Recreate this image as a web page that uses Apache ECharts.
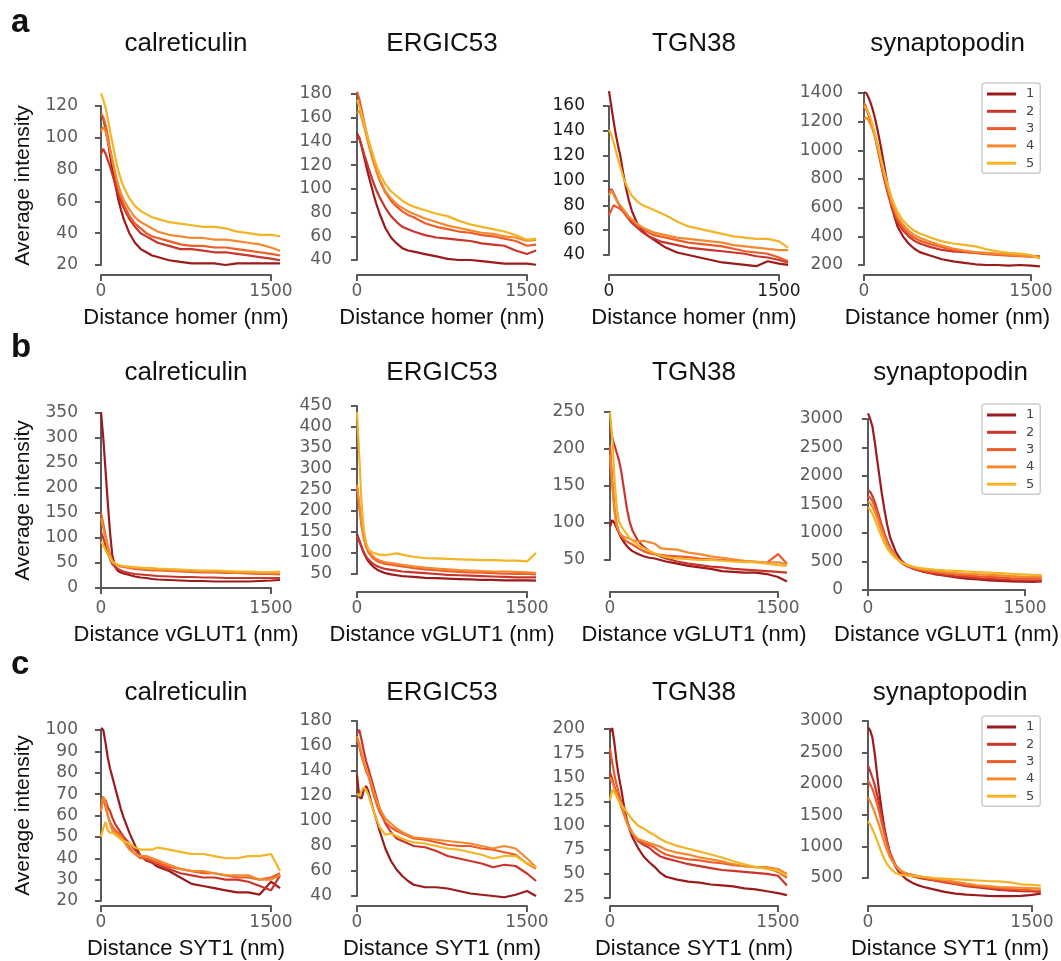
<!DOCTYPE html>
<html>
<head>
<meta charset="utf-8">
<script src="https://cdn.jsdelivr.net/npm/echarts@6/dist/echarts.min.js"></script>
<style>
  html, body { margin: 0; padding: 0; background: #fff; }
  #chart { width: 1061px; height: 961px; }
</style>
</head>
<body>
<div id="chart"></div>
<script>
// distance from the reference marker (nm), shared by every profile
var distanceNm = [0, 20, 40, 60, 80, 100, 125, 150, 175, 200, 250, 300, 350, 400, 450, 500, 600, 700, 800, 900, 1000, 1100, 1200, 1300, 1400, 1500, 1580];
var lineNames = ['1', '2', '3', '4', '5'];
var lineColors = ['#9b1a1c', '#c9352a', '#ee5a2a', '#f5892e', '#f3b425'];
var markers = ['calreticulin', 'ERGIC53', 'TGN38', 'synaptopodin'];
var references = ['homer', 'vGLUT1', 'SYT1'];
var letters = ['a', 'b', 'c'];

// average intensity profiles, one array per line 1..5
// a: distance to homer
var homer_calreticulin = [
  [115, 112, 106, 98, 89, 81, 71, 62, 55, 49, 40, 34, 30, 28, 26, 25, 23, 22, 21, 21, 21, 20, 21, 21, 21, 21, 21],
  [90, 93, 90, 86, 82, 77, 71, 65, 60, 56, 49, 44, 40, 38, 36, 34, 32, 30, 30, 29, 28, 28, 27, 26, 25, 24, 23],
  [115, 113, 108, 101, 93, 86, 77, 69, 63, 58, 51, 46, 43, 40, 38, 37, 35, 33, 32, 32, 31, 31, 30, 29, 28, 27, 26],
  [104, 107, 104, 98, 92, 86, 78, 71, 65, 61, 55, 50, 47, 45, 43, 41, 39, 38, 37, 37, 36, 36, 35, 34, 33, 31, 29],
  [128, 124, 119, 112, 104, 97, 88, 80, 74, 69, 62, 57, 54, 52, 50, 49, 47, 46, 45, 44, 44, 43, 41, 40, 39, 39, 38]
];
var homer_ergic53 = [
  [147, 143, 136, 128, 120, 112, 103, 94, 86, 79, 67, 59, 54, 50, 48, 47, 45, 43, 41, 40, 40, 39, 38, 37, 37, 37, 36],
  [145, 143, 137, 130, 124, 118, 111, 104, 98, 93, 84, 77, 72, 68, 66, 64, 61, 59, 58, 57, 56, 54, 53, 52, 48, 45, 48],
  [182, 176, 167, 158, 149, 141, 131, 122, 114, 107, 97, 90, 85, 81, 78, 76, 71, 68, 66, 64, 63, 61, 60, 58, 56, 52, 53],
  [164, 166, 160, 153, 146, 138, 129, 121, 114, 108, 98, 92, 87, 84, 81, 79, 75, 72, 69, 67, 65, 63, 62, 60, 59, 56, 57],
  [175, 170, 163, 156, 149, 142, 134, 126, 119, 113, 104, 98, 94, 90, 87, 85, 82, 79, 77, 73, 70, 68, 66, 64, 61, 57, 58]
];
var homer_tgn38 = [
  [172, 160, 148, 137, 128, 120, 106, 94, 84, 76, 65, 59, 55, 52, 49, 46, 42, 40, 38, 36, 34, 33, 32, 31, 35, 33, 32],
  [91, 93, 90, 86, 82, 79, 75, 72, 69, 66, 62, 58, 55, 53, 51, 50, 48, 46, 45, 44, 43, 42, 41, 39, 38, 36, 34],
  [72, 76, 80, 79, 78, 77, 75, 72, 70, 68, 64, 61, 58, 56, 55, 54, 52, 50, 49, 48, 47, 45, 43, 42, 41, 38, 35],
  [88, 92, 89, 85, 82, 80, 77, 74, 71, 69, 65, 62, 60, 58, 57, 56, 54, 53, 52, 51, 50, 48, 47, 46, 45, 44, 44],
  [141, 137, 131, 124, 117, 111, 103, 97, 92, 88, 83, 80, 78, 76, 74, 72, 67, 63, 61, 59, 57, 55, 54, 53, 53, 51, 46]
];
var homer_synaptopodin = [
  [1405, 1400, 1370, 1330, 1280, 1220, 1130, 1030, 920, 810, 600, 470, 400, 350, 315, 290, 265, 240, 225, 215, 205, 200, 200, 195, 200, 195, 190],
  [1300, 1290, 1250, 1200, 1150, 1090, 1000, 910, 820, 740, 600, 500, 440, 400, 370, 350, 325, 305, 295, 290, 285, 280, 275, 270, 265, 260, 255],
  [1330, 1300, 1260, 1210, 1160, 1100, 1020, 930, 840, 760, 620, 520, 460, 420, 390, 370, 345, 325, 305, 295, 285, 275, 270, 265, 262, 258, 262],
  [1220, 1230, 1210, 1180, 1140, 1090, 1015, 935, 850, 775, 640, 540, 480, 440, 410, 390, 360, 335, 315, 300, 290, 285, 280, 272, 265, 260, 250],
  [1310, 1290, 1260, 1220, 1170, 1110, 1030, 950, 870, 795, 665, 570, 510, 470, 440, 420, 390, 365, 350, 340, 330, 310, 295, 285, 280, 270, 245]
];
// b: distance to vGLUT1
var vglut1_calreticulin = [
  [352, 300, 235, 170, 110, 65, 42, 34, 31, 29, 26, 23, 21, 20, 18, 17, 16, 15, 14, 14, 13, 13, 13, 13, 14, 15, 16],
  [113, 100, 85, 70, 58, 48, 42, 38, 35, 33, 30, 28, 27, 26, 25, 24, 23, 22, 22, 21, 21, 20, 20, 20, 20, 20, 20],
  [150, 128, 105, 84, 66, 54, 48, 45, 43, 42, 40, 38, 37, 36, 35, 35, 34, 33, 32, 31, 31, 30, 30, 29, 28, 28, 27],
  [140, 120, 100, 81, 65, 54, 49, 46, 44, 43, 41, 40, 39, 38, 37, 37, 36, 35, 34, 33, 33, 32, 31, 31, 30, 30, 29],
  [93, 85, 76, 67, 59, 52, 48, 46, 45, 44, 43, 42, 41, 40, 40, 39, 38, 37, 36, 35, 35, 34, 33, 33, 32, 32, 33]
];
var vglut1_ergic53 = [
  [145, 130, 114, 100, 89, 80, 72, 66, 61, 57, 52, 49, 47, 45, 44, 43, 41, 40, 39, 38, 37, 36, 36, 35, 35, 35, 34],
  [140, 128, 115, 102, 92, 85, 78, 73, 69, 66, 62, 60, 58, 56, 55, 54, 52, 50, 48, 47, 46, 45, 44, 43, 42, 42, 42],
  [258, 210, 165, 135, 115, 102, 93, 86, 81, 78, 74, 72, 70, 68, 66, 64, 61, 59, 57, 55, 54, 53, 52, 51, 50, 50, 49],
  [262, 215, 170, 140, 120, 106, 97, 90, 85, 82, 78, 76, 74, 72, 70, 68, 65, 63, 61, 59, 58, 57, 56, 56, 55, 54, 52],
  [436, 330, 220, 155, 125, 110, 103, 100, 98, 96, 95, 97, 99, 96, 93, 91, 88, 87, 86, 85, 84, 83, 83, 82, 82, 80, 100]
];
var vglut1_tgn38 = [
  [95, 104, 100, 93, 86, 80, 74, 69, 65, 62, 58, 55, 53, 52, 50, 48, 45, 42, 40, 38, 35, 34, 33, 33, 31, 27, 21],
  [228, 215, 205, 195, 185, 170, 145, 120, 102, 90, 76, 68, 62, 58, 55, 52, 48, 45, 43, 41, 40, 38, 37, 36, 35, 34, 33],
  [205, 160, 120, 98, 88, 82, 78, 75, 73, 71, 66, 62, 59, 58, 57, 56, 55, 54, 52, 51, 50, 49, 48, 47, 46, 58, 45],
  [192, 150, 115, 96, 88, 84, 81, 80, 79, 77, 75, 76, 74, 72, 66, 65, 64, 60, 58, 55, 53, 51, 49, 48, 46, 47, 44],
  [250, 215, 160, 120, 102, 96, 90, 85, 80, 76, 70, 66, 62, 59, 56, 54, 52, 51, 50, 50, 49, 48, 47, 47, 45, 43, 42]
];
var vglut1_synaptopodin = [
  [3100, 3000, 2870, 2620, 2330, 2050, 1700, 1400, 1140, 930, 680, 520, 440, 390, 350, 320, 280, 250, 220, 200, 185, 170, 160, 150, 145, 140, 150],
  [1750, 1720, 1650, 1550, 1430, 1300, 1140, 990, 860, 750, 590, 480, 420, 380, 350, 325, 290, 260, 240, 225, 210, 195, 185, 175, 170, 165, 160],
  [1650, 1620, 1560, 1470, 1370, 1250, 1100, 960, 840, 740, 590, 490, 430, 395, 365, 345, 315, 290, 270, 255, 240, 230, 220, 210, 205, 200, 195],
  [1550, 1520, 1460, 1380, 1280, 1170, 1030, 910, 800, 710, 580, 490, 440, 405, 380, 360, 335, 310, 295, 285, 275, 265, 255, 245, 235, 230, 225],
  [1450, 1410, 1340, 1250, 1150, 1050, 930, 820, 730, 660, 560, 490, 445, 415, 395, 380, 360, 345, 335, 325, 315, 305, 295, 285, 275, 265, 260]
];
// c: distance to SYT1
var syt1_calreticulin = [
  [101, 100, 94, 87, 82, 78, 73, 68, 63, 59, 52, 46, 41, 39, 38, 36, 34, 31, 28, 27, 26, 25, 24, 24, 23, 29, 26],
  [63, 68, 67, 64, 62, 59, 56, 54, 52, 50, 47, 44, 41, 39, 38, 37, 35, 33, 32, 31, 31, 30, 30, 29, 27, 25, 32],
  [67, 68, 64, 60, 57, 55, 53, 52, 51, 49, 45, 42, 40, 40, 39, 38, 36, 35, 34, 33, 33, 32, 31, 31, 30, 31, 33],
  [62, 69, 66, 60, 56, 53, 52, 51, 50, 48, 44, 42, 41, 41, 40, 39, 37, 35, 34, 34, 33, 32, 32, 32, 30, 30, 32],
  [50, 54, 57, 53, 52, 52, 51, 50, 49, 48, 47, 45, 44, 44, 44, 45, 44, 43, 42, 42, 41, 40, 40, 41, 41, 42, 34]
];
var syt1_ergic53 = [
  [137, 119, 118, 125, 128, 124, 115, 107, 100, 92, 78, 68, 61, 56, 52, 49, 47, 47, 46, 44, 42, 41, 40, 39, 41, 44, 40],
  [170, 173, 165, 156, 148, 142, 134, 126, 118, 110, 98, 91, 86, 84, 82, 80, 79, 76, 72, 70, 68, 66, 63, 65, 64, 58, 52],
  [166, 160, 152, 146, 140, 136, 128, 120, 113, 107, 99, 95, 92, 90, 88, 86, 85, 83, 81, 80, 80, 78, 77, 75, 73, 66, 62],
  [168, 162, 155, 148, 142, 137, 130, 123, 116, 110, 102, 98, 94, 91, 89, 87, 86, 85, 84, 83, 82, 80, 78, 80, 78, 70, 63],
  [122, 120, 124, 127, 125, 121, 114, 107, 101, 95, 89, 90, 88, 86, 84, 83, 82, 80, 78, 77, 75, 73, 70, 72, 72, 66, 63]
];
var syt1_tgn38 = [
  [197, 201, 185, 165, 150, 138, 120, 106, 96, 88, 77, 68, 62, 57, 51, 47, 44, 42, 41, 39, 38, 37, 35, 34, 32, 30, 28],
  [155, 148, 140, 133, 127, 120, 112, 104, 97, 92, 84, 80, 77, 72, 68, 66, 63, 60, 58, 56, 54, 53, 52, 51, 50, 48, 38],
  [180, 165, 152, 142, 133, 124, 114, 105, 98, 92, 85, 82, 80, 77, 73, 70, 67, 65, 64, 62, 61, 59, 58, 57, 56, 52, 46],
  [150, 145, 138, 132, 126, 120, 111, 103, 97, 92, 86, 84, 82, 80, 78, 75, 72, 70, 67, 65, 63, 60, 58, 57, 57, 55, 50],
  [126, 137, 134, 130, 125, 122, 118, 114, 110, 106, 100, 97, 93, 90, 86, 83, 79, 76, 73, 70, 67, 63, 60, 57, 55, 53, 48]
];
var syt1_synaptopodin = [
  [2900, 2850, 2740, 2500, 2200, 1900, 1580, 1300, 1080, 900, 680, 560, 480, 430, 390, 360, 320, 280, 250, 235, 225, 215, 210, 210, 215, 230, 250],
  [2290, 2200, 2100, 1990, 1850, 1700, 1480, 1260, 1070, 910, 700, 600, 560, 530, 510, 490, 460, 430, 400, 370, 350, 330, 310, 300, 290, 285, 280],
  [2050, 1990, 1920, 1820, 1700, 1570, 1380, 1200, 1040, 900, 710, 610, 570, 545, 525, 505, 470, 440, 410, 385, 370, 355, 340, 325, 315, 305, 300],
  [1780, 1720, 1640, 1550, 1450, 1350, 1200, 1060, 940, 830, 690, 610, 575, 555, 535, 520, 495, 470, 440, 410, 385, 370, 355, 350, 345, 340, 330],
  [1400, 1350, 1280, 1200, 1110, 1020, 900, 800, 720, 660, 580, 550, 540, 535, 525, 520, 500, 490, 480, 470, 460, 450, 445, 430, 400, 390, 380]
];

var panelData = [
  homer_calreticulin, homer_ergic53, homer_tgn38, homer_synaptopodin,
  vglut1_calreticulin, vglut1_ergic53, vglut1_tgn38, vglut1_synaptopodin,
  syt1_calreticulin, syt1_ergic53, syt1_tgn38, syt1_synaptopodin
];
// y ticks per panel: [min, max, step]
var yTicks = [
  [20, 120, 20], [40, 180, 20], [40, 160, 20], [200, 1400, 200],
  [0, 350, 50], [50, 450, 50], [50, 250, 50], [0, 3000, 500],
  [20, 100, 10], [40, 180, 20], [25, 200, 25], [500, 3000, 500]
];

// layout (px): box from x=0..1500 and over the y tick range, [left, top, width, height]
var boxes = [
  [101, 106, 170, 159], [357, 94, 170, 166], [609, 106, 170, 149], [864, 93, 167, 172],
  [101, 413, 170, 175], [357, 406, 170, 168], [610, 412, 168, 148], [868, 419, 165, 171],
  [101, 730, 170, 171], [357, 721, 170, 175], [610, 729, 168, 169], [868, 721, 164, 157]
];
var xSpineY = [275, 592, 906];
var ySpineX = [86, 340, 593, 851];
var titleY = [43, 372, 692];
var letterY = [23, 348, 665];
var legendTop = [83, 404, 716];
var xTickMax = 1500;   // the trimmed x spine stops at the last tick
var xDataMax = 1600;   // the profiles run a little past it

var spineColor = '#5a5a5a';
var tickFont = 'DejaVu Sans';
var textFont = '"Liberation Sans", Arial, sans-serif';
var plain = function (v) { return String(v); };

var chart = echarts.init(document.getElementById('chart'));
var option = {
  animation: false,
  grid: [], xAxis: [], yAxis: [], series: [], legend: [], graphic: []
};

panelData.forEach(function (lines, i) {
  var row = Math.floor(i / 4), col = i % 4;
  var b = boxes[i];
  var labelColor = (i === 2) ? '#1a1a1a' : '#5c5c5c'; // TGN38/homer labels are darker
  var dataGrid = 2 * i, axisGrid = 2 * i + 1;

  // grid holding the profiles: same px per nm, but wide enough for the tail past 1500
  option.grid.push({ left: b[0], top: b[1], width: b[2] * xDataMax / xTickMax, height: b[3] });
  // grid only carrying the trimmed x spine 0..1500
  option.grid.push({ left: b[0], top: b[1], width: b[2], height: b[3] });

  option.xAxis.push({ type: 'value', gridIndex: dataGrid, min: 0, max: xDataMax, show: false });
  option.xAxis.push({
    type: 'value', gridIndex: axisGrid, min: 0, max: xTickMax, interval: xTickMax,
    offset: xSpineY[row] - (b[1] + b[3]),
    name: 'Distance ' + references[row] + ' (nm)',
    nameLocation: 'middle', nameGap: 32,
    nameTextStyle: { fontFamily: textFont, fontSize: 22, color: '#111' },
    axisLine: { show: true, lineStyle: { color: spineColor, width: 2 } },
    axisTick: { show: true, length: 6, lineStyle: { color: spineColor, width: 2 } },
    axisLabel: { fontFamily: tickFont, fontSize: 17, color: labelColor, margin: 8, formatter: plain },
    splitLine: { show: false }
  });
  option.yAxis.push({
    type: 'value', gridIndex: dataGrid,
    min: yTicks[i][0], max: yTicks[i][1], interval: yTicks[i][2],
    offset: b[0] - ySpineX[col],
    name: col === 0 ? 'Average intensity' : '',
    nameLocation: 'middle', nameGap: 52, nameRotate: 90,
    nameTextStyle: { fontFamily: textFont, fontSize: 21, color: '#111' },
    axisLine: { show: true, lineStyle: { color: spineColor, width: 2 } },
    axisTick: { show: true, length: 6, lineStyle: { color: spineColor, width: 2 } },
    axisLabel: { fontFamily: tickFont, fontSize: 17, color: labelColor, margin: 8, formatter: plain },
    splitLine: { show: false }
  });
  option.yAxis.push({ type: 'value', gridIndex: axisGrid, min: yTicks[i][0], max: yTicks[i][1], show: false });

  lines.forEach(function (vals, k) {
    option.series.push({
      name: lineNames[k], type: 'line', xAxisIndex: dataGrid, yAxisIndex: dataGrid,
      data: distanceNm.map(function (d, j) { return [d, vals[j]]; }),
      symbol: 'none', clip: false,
      lineStyle: { width: 2.2, color: lineColors[k] },
      itemStyle: { color: lineColors[k] }
    });
  });
  option.graphic.push({
    type: 'text', x: b[0] + b[2] / 2, y: titleY[row] + 1,
    style: { text: markers[col], font: '26px ' + textFont, fill: '#111', align: 'center', verticalAlign: 'middle' }
  });
});

letters.forEach(function (l, r) {
  option.graphic.push({
    type: 'text', x: 11, y: letterY[r],
    style: { text: l, font: 'bold 33px ' + textFont, fill: '#111', align: 'left', verticalAlign: 'middle' }
  });
  option.legend.push({
    data: lineNames, orient: 'vertical', left: 982, top: legendTop[r],
    padding: [4, 6, 3, 5], itemGap: 3.3, itemWidth: 29, itemHeight: 3, icon: 'rect',
    borderColor: '#cccccc', borderWidth: 1.5, borderRadius: 3, backgroundColor: '#fff',
    textStyle: { fontFamily: tickFont, fontSize: 13, lineHeight: 14, color: '#444', padding: [0, 0, 0, 5] },
    selectedMode: false
  });
});

chart.setOption(option);
</script>
</body>
</html>
